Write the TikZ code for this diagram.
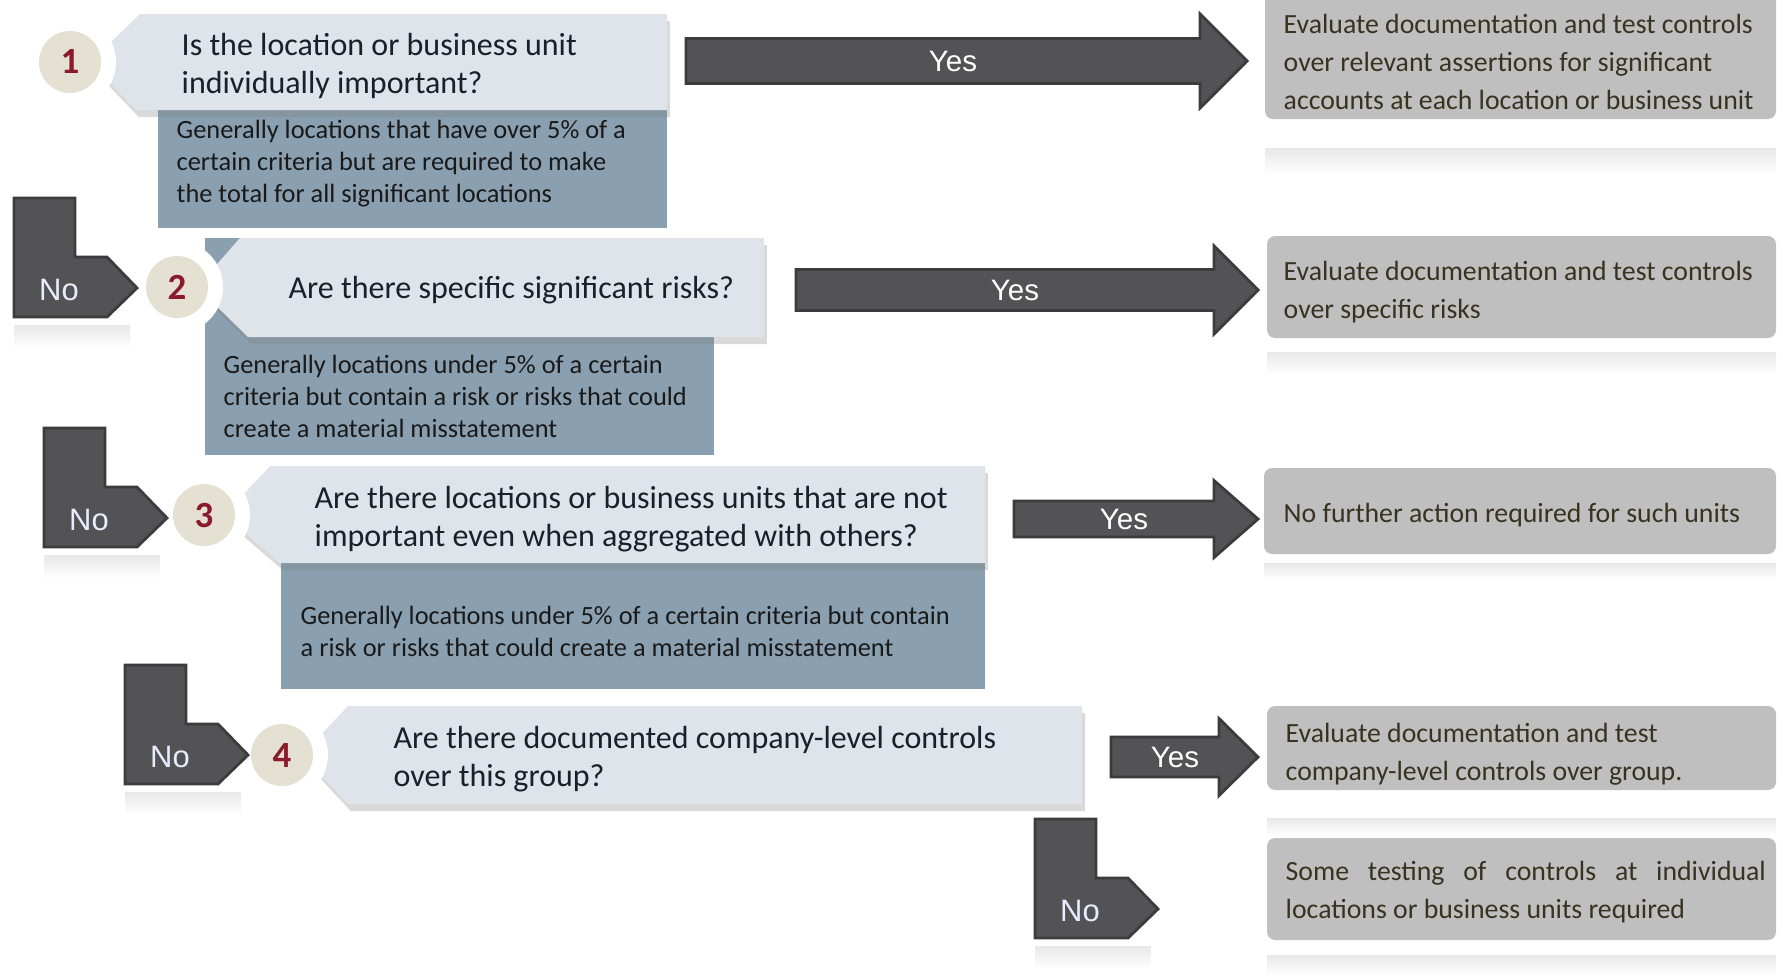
\documentclass[tikz,border=0pt]{standalone}
\usepackage{fontspec}
\setmainfont{Carlito}
\newfontfamily\arialfont{Liberation Sans}
\usetikzlibrary{shadows}

\definecolor{callout}{HTML}{DFE3EA}
\definecolor{notebox}{HTML}{8AA0B0}
\definecolor{darkarrow}{HTML}{535355}
\definecolor{arrowedge}{HTML}{3C3C3E}
\definecolor{resultbox}{HTML}{BFBFBF}
\definecolor{numfill}{HTML}{E4E1D3}
\definecolor{numred}{HTML}{8B1A2B}
\definecolor{resulttext}{HTML}{3A3220}
\definecolor{qtext}{HTML}{18202C}

\tikzset{
  question/.style={fill=callout, drop shadow={shadow xshift=0.8pt, shadow yshift=-2pt, opacity=.3}},
  note/.style={fill=notebox},
  halo/.style={fill=white},
  numcircle/.style={fill=numfill},
  bigarrow/.style={fill=darkarrow, draw=arrowedge, line width=0.8pt},
  result/.style={fill=resultbox, rounded corners=2.3pt},
  reflect/.style={top color=black!9, bottom color=white},
  qlabel/.style={anchor=west, inner sep=0pt, align=left, text=qtext, font=\fontsize{9.1pt}{10.7pt}\selectfont},
  nlabel/.style={anchor=west, inner sep=0pt, align=left, text=black!90, font=\fontsize{7.5pt}{9.1pt}\selectfont},
  rlabel/.style={anchor=west, inner sep=0pt, align=left, text=resulttext, font=\fontsize{7.9pt}{10.8pt}\selectfont},
  numlabel/.style={text=numred, font=\fontsize{10.5pt}{12pt}\selectfont\bfseries},
  yeslabel/.style={text=white, font=\arialfont\fontsize{8.4pt}{10pt}\selectfont},
  nolabel/.style={text=white!92!blue, font=\arialfont\fontsize{8.8pt}{10pt}\selectfont},
}

\begin{document}
\begin{tikzpicture}[x=0.01cm, y=-0.01cm]
    \useasboundingbox (0,0) rectangle (1783,975);
    % notes under the questions
    \fill[note] (158,90) rectangle (667,228);
    \fill[note] (205,238) rectangle (714,455);
    \fill[note] (281,530) rectangle (985,689);
    % questions
    \fill[question] (90,62) -- (140,14) -- (667,14) -- (667,110) -- (136,110) -- cycle;
    \fill[question] (197,287) -- (240,238) -- (764,238) -- (764,337) -- (248,337) -- cycle;
    \fill[question] (224,515) -- (270,466) -- (985,466) -- (985,563) -- (280,563) -- cycle;
    \fill[question] (302,755) -- (348,706) -- (1082,706) -- (1082,804) -- (348,804) -- cycle;
    % numbers
    \foreach \cx/\cy/\n in {70/62/1, 177/287/2, 204/515/3, 282/755/4} {
        \fill[halo] (\cx,\cy) circle (46);
        \fill[numcircle] (\cx,\cy) circle (31);
        \node[numlabel] (num\n) at (\cx,\cy) {\n};
    }
    \node[qlabel] (q1) at (181,66) {Is the location or business unit\\individually important?};
    \node[qlabel] (q2) at (288,290) {Are there specific significant risks?};
    \node[qlabel] (q3) at (314,519) {Are there locations or business units that are not\\important even when aggregated with others?};
    \node[qlabel] (q4) at (393,759) {Are there documented company-level controls\\over this group?};
    \node[nlabel] (n1) at (176,164) {Generally locations that have over 5\% of a\\certain criteria but are required to make\\the total for all significant locations};
    \node[nlabel] (n2) at (223,396) {Generally locations under 5\% of a certain\\criteria but contain a risk or risks that could\\create a material misstatement};
    \node[nlabel] (n3) at (300,631) {Generally locations under 5\% of a certain criteria but contain\\a risk or risks that could create a material misstatement};
    % no arrows
    \foreach \xa/\ya/\n in {14/198/1, 44/428/2, 125/665/3, 1035/819/4} {
        \shade[reflect] (\xa,\ya+127) rectangle (\xa+116,\ya+150);
        \draw[bigarrow] (\xa,\ya) -- (\xa+61,\ya) -- (\xa+61,\ya+59) -- (\xa+93,\ya+59) -- (\xa+123,\ya+90) -- (\xa+93,\ya+119) -- (\xa,\ya+119) -- cycle;
        \node[nolabel] (no\n) at (\xa+45,\ya+92) {No};
    }
    % yes arrows
    \foreach \xl/\xh/\xt/\ym/\hb/\hh/\n in {686/1200/1247/61/22.5/47/1, 796/1214/1258/290/20.5/44/2, 1014/1214/1258/519/18/38.5/3, 1111/1219/1258/757/20/38.5/4} {
        \draw[bigarrow] (\xl,\ym-\hb) -- (\xh,\ym-\hb) -- (\xh,\ym-\hh) -- (\xt,\ym) -- (\xh,\ym+\hh) -- (\xh,\ym+\hb) -- (\xl,\ym+\hb) -- cycle;
        \node[yeslabel] (yes\n) at ({(\xl+\xh)/2+10},\ym) {Yes};
    }
    % results
    \fill[result] (1265,-10) rectangle (1776,119);
    \shade[reflect] (1265,148) rectangle (1776,175);
    \fill[result] (1267,236) rectangle (1776,338);
    \shade[reflect] (1267,352) rectangle (1776,375);
    \fill[result] (1264,468) rectangle (1776,554);
    \shade[reflect] (1264,563) rectangle (1776,580);
    \fill[result] (1267,706) rectangle (1776,790);
    \shade[reflect] (1267,818) rectangle (1776,836);
    \fill[result] (1267,838) rectangle (1776,940);
    \shade[reflect] (1267,955) rectangle (1776,975);
    \node[rlabel] (r1) at (1283,62) {Evaluate documentation and test controls\\over relevant assertions for significant\\accounts at each location or business unit};
    \node[rlabel] (r2) at (1283,292) {Evaluate documentation and test controls\\over specific risks};
    \node[rlabel] (r3) at (1283,515) {No further action required for such units};
    \node[rlabel] (r4) at (1285,754) {Evaluate documentation and test\\company-level controls over group.};
    \node[rlabel] (r5) at (1285,892) {\hbox to 48mm{Some\hfill testing\hfill of\hfill controls\hfill at\hfill individual}\\locations or business units required};
\end{tikzpicture}
\end{document}
